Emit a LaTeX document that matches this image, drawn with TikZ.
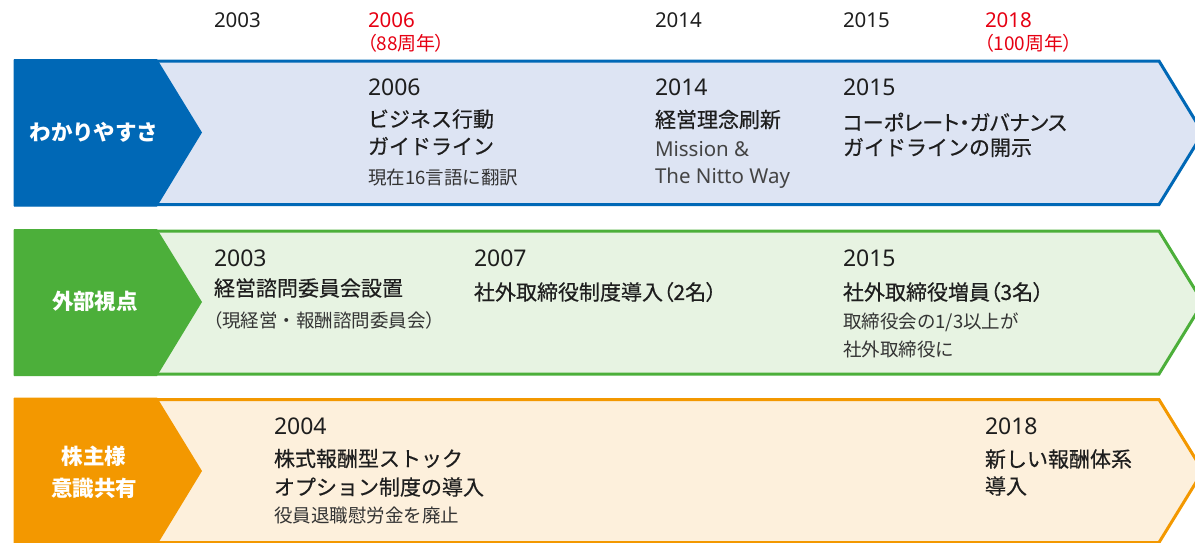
\documentclass[tikz,border=0pt]{standalone}
\usepackage{fontspec}
\setmainfont{Noto Sans CJK JP}
\newfontfamily\jp{Noto Sans CJK JP}
\newfontfamily\jpm{Noto Sans CJK JP}[FakeBold=0.5]
\newfontfamily\jpmp{Noto Sans CJK JP}[FakeBold=0.5,RawFeature=+palt]
\newfontfamily\jpp{Noto Sans CJK JP}[RawFeature=+palt]
\newfontfamily\lat{Noto Sans}
\definecolor{bluedark}{HTML}{0068B6}
\definecolor{bluelight}{HTML}{DDE4F3}
\definecolor{greendark}{HTML}{4CAF3A}
\definecolor{greenlight}{HTML}{E7F3E2}
\definecolor{orangedark}{HTML}{F39800}
\definecolor{orangelight}{HTML}{FDF0DC}
\definecolor{redtxt}{HTML}{E60012}
\definecolor{txt}{HTML}{1E1E1E}
\definecolor{subtxt}{HTML}{333333}
\definecolor{graytxt}{HTML}{444444}
\tikzset{
  tx/.style={anchor=west,inner sep=0pt,outer sep=0pt,text=txt},
  hyear/.style={tx,font=\lat\fontsize{20.5}{21}\selectfont},
  hsub/.style={tx,font=\jpp\fontsize{19}{21}\selectfont,text=redtxt},
  byear/.style={tx,font=\lat\fontsize{23}{24}\selectfont},
  mainj/.style={tx,font=\jpm\fontsize{21}{22}\selectfont},
  mainjp/.style={tx,font=\jpmp\fontsize{21}{22}\selectfont},
  subj/.style={tx,font=\jp\fontsize{18.5}{20}\selectfont,text=subtxt},
  latsub/.style={tx,font=\lat\fontsize{20.5}{22}\selectfont,text=graytxt},
  lbl/.style={anchor=center,inner sep=0pt,text=white,font=\jp\bfseries\fontsize{21.5}{23}\selectfont},
  band/.style={line width=3pt,line join=miter},
}
\begin{document}
\begin{tikzpicture}[x=1pt,y=-1pt]
\useasboundingbox (0,0) rectangle (1195,542);
\clip (0,0) rectangle (1195,542);
% bands
\filldraw[band,fill=bluelight,draw=bluedark] (15,61) -- (1159,61) -- (1203,133) -- (1159,204.5) -- (15,204.5) -- cycle;
\fill[bluedark] (14,59) -- (157,59) -- (202,132.5) -- (157,206.5) -- (14,206.5) -- cycle;
\filldraw[band,fill=greenlight,draw=greendark] (15,231) -- (1159,231) -- (1203,302.5) -- (1159,374) -- (15,374) -- cycle;
\fill[greendark] (14,229) -- (157,229) -- (202,302) -- (157,376) -- (14,376) -- cycle;
\filldraw[band,fill=orangelight,draw=orangedark] (15,399.5) -- (1159,399.5) -- (1203,471) -- (1159,542.5) -- (15,542.5) -- cycle;
\fill[orangedark] (14,397.5) -- (157,397.5) -- (202,471) -- (157,545) -- (14,545) -- cycle;
% labels
\node[lbl] (l1) at (94,132) {わかりやすさ};
\node[lbl] (l2) at (95,301) {外部視点};
\node[lbl] (l3a) at (94,456) {株主様};
\node[lbl] (l3b) at (94,488) {意識共有};
% header
\node[hyear] (h03) at (214,20.5) {2003};
\node[hyear,text=redtxt] (h06) at (368,20.5) {2006};
\node[hsub] (h06b) at (367,43.5) {（88周年）};
\node[hyear] (h14) at (655,20.5) {2014};
\node[hyear] (h15) at (843,20.5) {2015};
\node[hyear,text=redtxt] (h18) at (985,20.5) {2018};
\node[hsub] (h18b) at (984,43.5) {（100周年）};
% blue band
\node[byear] (b06y) at (368,87.5) {2006};
\node[mainj] (b06a) at (368,119) {ビジネス行動};
\node[mainj] (b06b) at (368,146) {ガイドライン};
\node[subj] (b06c) at (368,177.5) {現在16言語に翻訳};
\node[byear] (b14y) at (655,87.5) {2014};
\node[mainj] (b14a) at (655,119.5) {経営理念刷新};
\node[latsub] (b14c) at (655,149) {Mission \&};
\node[latsub,anchor=base west] (b14d) at (655,183.5) {The Nitto Way};
\node[byear] (b15y) at (843,87.5) {2015};
\node[mainjp] (b15a) at (843,122) {コーポレート・ガバナンス};
\node[mainj] (b15b) at (843,147.5) {ガイドラインの開示};
% green band
\node[byear] (g03y) at (214,258) {2003};
\node[mainj] (g03a) at (214,288) {経営諮問委員会設置};
\node[subj] (g03b) at (213,320) {{\jpp （}現経営・報酬諮問委員会{\jpp ）}};
\node[byear] (g07y) at (474,258) {2007};
\node[mainjp] (g07a) at (474,292) {社外取締役制度導入（2名）};
\node[byear] (g15y) at (843,258) {2015};
\node[mainjp] (g15a) at (843,292) {社外取締役増員（3名）};
\node[subj] (g15b) at (843,322) {取締役会の1/3以上が};
\node[subj] (g15c) at (843,349) {社外取締役に};
% orange band
\node[byear] (o04y) at (274,426.5) {2004};
\node[mainj] (o04a) at (274,458.5) {株式報酬型ストック};
\node[mainj] (o04b) at (274,487) {オプション制度の導入};
\node[subj] (o04c) at (274,515) {役員退職慰労金を廃止};
\node[byear] (o18y) at (985,426.5) {2018};
\node[mainj] (o18a) at (985,459) {新しい報酬体系};
\node[mainj] (o18b) at (985,486) {導入};
\end{tikzpicture}
\end{document}
